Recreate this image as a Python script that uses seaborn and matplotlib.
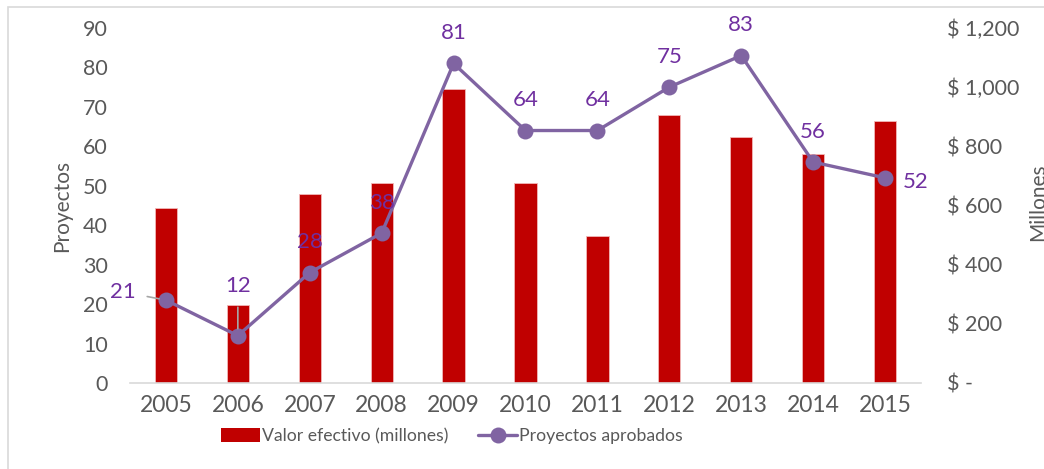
import pandas as pd
import matplotlib.pyplot as plt
import seaborn as sns
from matplotlib.patches import Rectangle, Patch
from matplotlib.lines import Line2D
from matplotlib.ticker import FuncFormatter

# --- Data ---
years = ["2005", "2006", "2007", "2008", "2009", "2010",
         "2011", "2012", "2013", "2014", "2015"]
valor_millones = [593, 264, 640, 675, 992, 675, 496, 905, 831, 774, 886]
proyectos = [21, 12, 28, 38, 81, 64, 64, 75, 83, 56, 52]

BAR_COLOR = "#C00000"
LINE_COLOR = "#8064A2"
LABEL_COLOR = "#7030A0"
TEXT_COLOR = "#595959"

sns.set_theme(style="white")
plt.rcParams["font.family"] = ["Lato", "DejaVu Sans"]

df = pd.DataFrame({"Año": years, "Valor": valor_millones, "Proyectos": proyectos})

fig = plt.figure(figsize=(10.44, 4.69), dpi=100)
ax = fig.add_axes([0.1245, 0.1834, 0.7577, 0.757])
ax2 = ax.twinx()

# bars on the primary axes (drawn below), values on the right-hand scale
sns.barplot(data=df, x="Año", y="Valor", color=BAR_COLOR, width=0.31,
            saturation=1, edgecolor="#F2B8B8", linewidth=0.6, ax=ax)
ax.set_ylim(0, 1200)
ax.set_xlim(-0.5, 10.5)
ax.set_yticks(range(0, 1201, 200))
ax.yaxis.set_major_formatter(
    FuncFormatter(lambda v, p: "$ -" if v == 0 else f"$ {v:,.0f}"))
ax.set_xlabel("")

# line on the twin axes, values on the left-hand scale
sns.lineplot(data=df, x="Año", y="Proyectos", color=LINE_COLOR, lw=2.4,
             marker="o", markersize=11.5, markeredgewidth=0, ax=ax2)
ax2.set_ylim(0, 90)
ax2.set_yticks(range(0, 91, 10))
ax2.set_xlabel("")

# swap sides: bar scale on the right, project scale on the left
ax.yaxis.tick_right()
ax.yaxis.set_label_position("right")
ax2.yaxis.tick_left()
ax2.yaxis.set_label_position("left")
ax.set_ylabel("Millones", fontsize=15, color=TEXT_COLOR)
ax.yaxis.set_label_coords(1.136, 0.51)
ax2.set_ylabel("Proyectos", fontsize=15, color=TEXT_COLOR, labelpad=8)

for a in (ax, ax2):
    for s in a.spines.values():
        s.set_visible(False)
    a.tick_params(axis="both", length=0, labelsize=15.5, colors=TEXT_COLOR)
ax.tick_params(axis="y", pad=19)
ax2.tick_params(axis="y", pad=16)
ax.tick_params(axis="x", pad=9, labelsize=16.5)
ax.spines["bottom"].set_visible(True)
ax.spines["bottom"].set_color("#D9D9D9")
ax.spines["bottom"].set_linewidth(1.2)

# data labels (offsets in points)
offsets = {0: (-31, 6), 1: (0, 36), 10: (22, -3)}
for i, v in enumerate(proyectos):
    dx, dy = offsets.get(i, (0, 22))
    arrow = None
    if i in (0, 1):
        arrow = dict(arrowstyle="-", color="#A6A6A6", lw=1.2, shrinkA=6, shrinkB=5)
    ax2.annotate(str(v), (i, v), xytext=(dx, dy), textcoords="offset points",
                 ha="center", va="center", fontsize=16, color=LABEL_COLOR,
                 arrowprops=arrow)

handles = [Patch(facecolor=BAR_COLOR, edgecolor="none"),
           Line2D([], [], color=LINE_COLOR, lw=2.4, marker="o", markersize=11.5,
                  markeredgewidth=0)]
leg = fig.legend(handles, ["Valor efectivo (millones)", "Proyectos aprobados"],
                 loc="center", bbox_to_anchor=(0.433, 0.07), ncol=2, frameon=False,
                 fontsize=12.7, handlelength=2.2, handleheight=0.8,
                 handletextpad=0.1, columnspacing=1.7)
for t in leg.get_texts():
    t.set_color(TEXT_COLOR)

# outer chart frame
fig.patches.append(Rectangle((8 / 1044, -0.1), 1.1, (462 / 469) + 0.1,
                             transform=fig.transFigure, fill=False,
                             edgecolor="#D9D9D9", lw=1.2))

fig.savefig("out.png", dpi=100)
